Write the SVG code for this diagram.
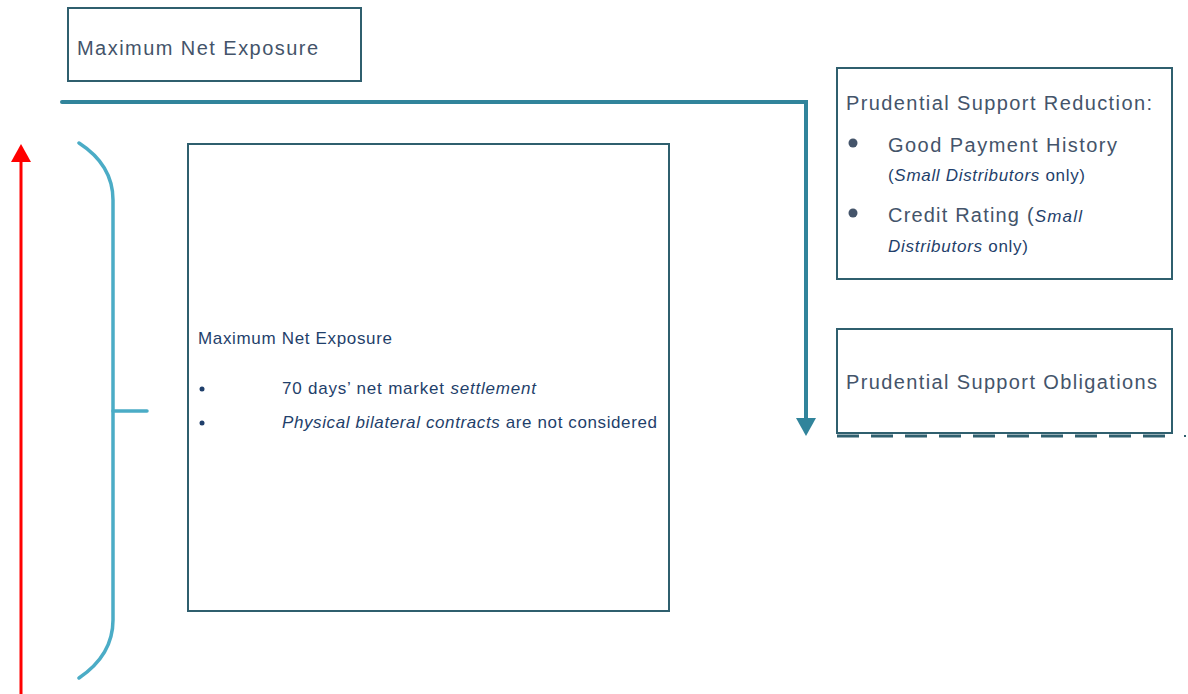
<svg xmlns="http://www.w3.org/2000/svg" width="1188" height="694" viewBox="0 0 1188 694">
<style>
.box{fill:#fff;stroke:#2f5f6e;stroke-width:2}
.t{font-family:"Liberation Sans",Arial,sans-serif;fill:#44546a}
.s{font-family:"Liberation Sans",Arial,sans-serif;fill:#1f3f6b}
.i{font-style:italic}
</style>
<g id="connectors">
<path d="M62,102 H806 V418" fill="none" stroke="#31849b" stroke-width="4" stroke-linecap="round"/>
<path d="M796,418 L816,418 L806,436 Z" fill="#31849b"/>
<line x1="837" y1="436" x2="1172" y2="436" stroke="#2f5f6e" stroke-width="3" stroke-dasharray="22,12"/>
<rect x="1184" y="435" width="2" height="2" fill="#2f5f6e"/>
<path d="M79,143 Q113,165 113,200 V620 Q113,655 79,678" fill="none" stroke="#4bacc6" stroke-width="3.5" stroke-linecap="round"/>
<line x1="113" y1="411" x2="147" y2="411" stroke="#4bacc6" stroke-width="3.5" stroke-linecap="round"/>
<line x1="21" y1="162" x2="21" y2="694" stroke="#ff0000" stroke-width="3"/>
<path d="M11,162 L31,162 L21,144 Z" fill="#ff0000"/>
</g>
<g id="node-max-top">
<rect class="box" x="68" y="8" width="293" height="73"/>
<text class="t" x="77" y="55" font-size="20" textLength="241" lengthAdjust="spacing">Maximum Net Exposure</text>
</g>
<g id="node-reduction">
<rect class="box" x="837" y="68" width="335" height="211"/>
<text class="t" x="846" y="110" font-size="20" textLength="306" lengthAdjust="spacing">Prudential Support Reduction:</text>
<circle cx="853" cy="143" r="4.5" fill="#44546a"/>
<text class="t" x="888" y="152" font-size="20" textLength="229" lengthAdjust="spacing">Good Payment History</text>
<text class="s" x="888" y="181" font-size="17" textLength="197" lengthAdjust="spacing">(<tspan class="i">Small Distributors</tspan> only)</text>
<circle cx="853" cy="213" r="4.5" fill="#44546a"/>
<text class="t" x="888" y="222" font-size="20" textLength="194" lengthAdjust="spacing">Credit Rating (<tspan class="i" fill="#1f3f6b" font-size="17">Small</tspan></text>
<text class="s" x="888" y="252" font-size="17" textLength="140" lengthAdjust="spacing"><tspan class="i">Distributors</tspan> only)</text>
</g>
<g id="node-obligations">
<rect class="box" x="837" y="329" width="335" height="104"/>
<text class="t" x="846" y="389" font-size="20" textLength="311" lengthAdjust="spacing">Prudential Support Obligations</text>
</g>
<g id="node-center">
<rect class="box" x="188" y="144" width="481" height="467"/>
<text class="s" x="198" y="344" font-size="17" textLength="194" lengthAdjust="spacing">Maximum Net Exposure</text>
<circle cx="202" cy="389" r="2.5" fill="#1f3f6b"/>
<text class="s" x="282" y="394" font-size="17" textLength="254" lengthAdjust="spacing">70 days’ net market <tspan class="i">settlement</tspan></text>
<circle cx="202" cy="423" r="2.5" fill="#1f3f6b"/>
<text class="s" x="282" y="428" font-size="17" textLength="375" lengthAdjust="spacing"><tspan class="i">Physical bilateral contracts</tspan> are not considered</text>
</g>
</svg>
